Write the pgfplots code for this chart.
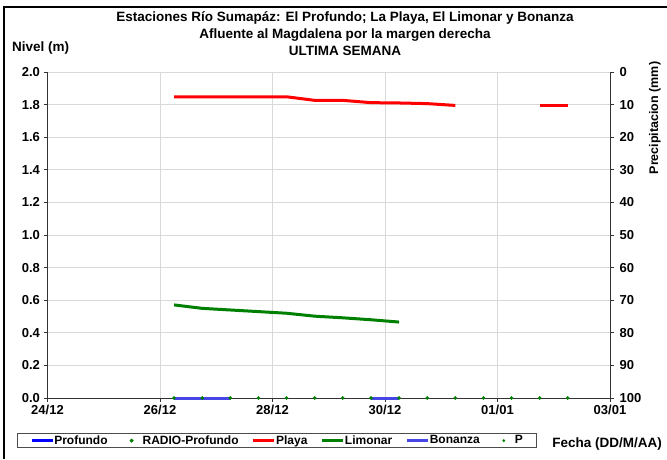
\documentclass[border=0pt]{standalone}
\usepackage{pgfplots}
\pgfplotsset{compat=1.18}
\usepackage{fontspec}
\setmainfont{Liberation Sans}
\definecolor{bonanza}{RGB}{70,70,230}
\definecolor{limgreen}{RGB}{0,128,0}
\definecolor{gridgray}{RGB}{217,217,217}
\pgfplotsset{
  mylinelegend/.style={legend image code/.code={\draw[##1] (0pt,0pt) -- (21pt,0pt);}},
  mydotlegend/.style={legend image code/.code={\path[draw=none] (0pt,0pt) (21pt,0pt);\draw[##1] plot coordinates {(10.5pt,0pt)};}},
}
\begin{document}
\begin{tikzpicture}
\useasboundingbox (0pt,0pt) rectangle (667pt,459pt);
\draw[line width=2.5pt] (4pt,0pt) -- (4pt,452pt) -- (667pt,452pt);
\tikzset{tfont/.style={font=\bfseries\fontsize{13.5}{15}\selectfont, inner sep=0pt}}
\node[tfont] at (345pt,441pt) {Estaciones Río Sumapáz: El Profundo; La Playa, El Limonar y Bonanza};
\node[tfont] at (345pt,424pt) {Afluente al Magdalena por la margen derecha};
\node[tfont] at (345pt,408pt) {ULTIMA SEMANA};
\node[tfont, anchor=west] at (12pt,411pt) {Nivel (m)};
\node[tfont, rotate=90, font=\bfseries\fontsize{12.5}{14}\selectfont] at (655pt,341pt) {Precipitacion (mm)};
\node[tfont, anchor=east] at (662pt,15pt) {Fecha (DD/M/AA)};

\begin{axis}[at={(47.5pt,61pt)}, anchor=south west, scale only axis,
  width=562.5pt, height=326pt,
  xmin=0, xmax=10, ymin=0, ymax=2,
  xtick={0,2,4,6,8,10}, xticklabels={24/12,26/12,28/12,30/12,01/01,03/01},
  ytick={0,0.2,0.4,0.6,0.8,1.0,1.2,1.4,1.6,1.8,2.0},
  yticklabel style={/pgf/number format/.cd, fixed, fixed zerofill, precision=1},
  axis x line*=bottom, axis y line*=left,
  axis line style={-, black!80, line width=0.9pt},
  grid=major, major grid style={gridgray, line width=0.9pt},
  tick align=outside, major tick length=4pt, tick style={black!80, line width=0.8pt},
  ticklabel style={font=\bfseries\fontsize{13}{15}\selectfont},
  /pgf/number format/assume math mode=true,
  legend columns=6,
  legend style={at={(axis description cs:-0.0542,-0.108)}, anchor=north west,
    draw=black!70, line width=0.6pt, fill=white, inner xsep=13pt, inner ysep=1.5pt,
    font=\bfseries\fontsize{12}{13.5}\selectfont,
    /tikz/every even column/.append style={column sep=13pt},
    nodes={inner sep=0.5pt}},
  legend cell align=left,
]
\addlegendimage{mylinelegend, blue, line width=2.5pt}
\addlegendentry{Profundo}
\addlegendimage{mydotlegend, limgreen, only marks, mark=*, mark size=1.6pt}
\addlegendentry{RADIO-Profundo}
\addlegendimage{mylinelegend, red, line width=2.5pt}
\addlegendentry{Playa}
\addlegendimage{mylinelegend, limgreen, line width=2.5pt}
\addlegendentry{Limonar}
\addlegendimage{mylinelegend, bonanza, line width=2.5pt}
\addlegendentry{Bonanza}
\addlegendimage{mydotlegend, limgreen, only marks, mark=*, mark size=1.1pt}
\addlegendentry{P}

% Playa
\addplot[red, line width=3pt, line join=round, forget plot] coordinates {
 (2.25,1.848) (2.75,1.848) (3.25,1.848) (3.75,1.848) (4.25,1.848)
 (4.75,1.826) (5.25,1.826) (5.75,1.812) (6.25,1.810) (6.75,1.806) (7.25,1.795)};
\addplot[red, line width=3pt, forget plot] coordinates {(8.75,1.795) (9.25,1.795)};
% Limonar
\addplot[limgreen, line width=3pt, line join=round, forget plot] coordinates {
 (2.25,0.571) (2.75,0.550) (3.25,0.540) (3.75,0.530) (4.25,0.520)
 (4.75,0.502) (5.25,0.492) (5.75,0.480) (6.25,0.466)};
\end{axis}

\begin{axis}[at={(47.5pt,61pt)}, anchor=south west, scale only axis,
  width=562.5pt, height=326pt,
  xmin=0, xmax=10, ymin=0, ymax=100, y dir=reverse,
  axis x line=none, axis y line*=right,
  axis line style={-, black!80, line width=0.9pt},
  ytick={0,10,20,30,40,50,60,70,80,90,100},
  tick align=outside, major tick length=4pt, tick style={black!80, line width=0.8pt},
  ticklabel style={font=\bfseries\fontsize{13}{15}\selectfont},
  yticklabel style={xshift=2pt},
  /pgf/number format/assume math mode=true,
]
\end{axis}

% overlay axis for series lying on the zero line (drawn above the axis line)
\begin{axis}[at={(47.5pt,61pt)}, anchor=south west, scale only axis,
  width=562.5pt, height=326pt,
  xmin=0, xmax=10, ymin=0, ymax=2,
  hide axis, clip=false,
]
% Profundo / Bonanza
\addplot[bonanza, line width=3pt] coordinates {(2.25,0) (3.25,0)};
\addplot[bonanza, line width=3pt] coordinates {(5.75,0) (6.25,0)};
% RADIO-Profundo
\addplot[limgreen, only marks, mark=*, mark size=1.6pt] coordinates {
 (2.25,0) (2.75,0) (3.25,0) (3.75,0) (4.25,0) (4.75,0) (5.25,0) (5.75,0)
 (6.25,0) (6.75,0) (7.25,0) (7.75,0) (8.25,0) (8.75,0) (9.25,0)};
\end{axis}
\end{tikzpicture}
\end{document}
